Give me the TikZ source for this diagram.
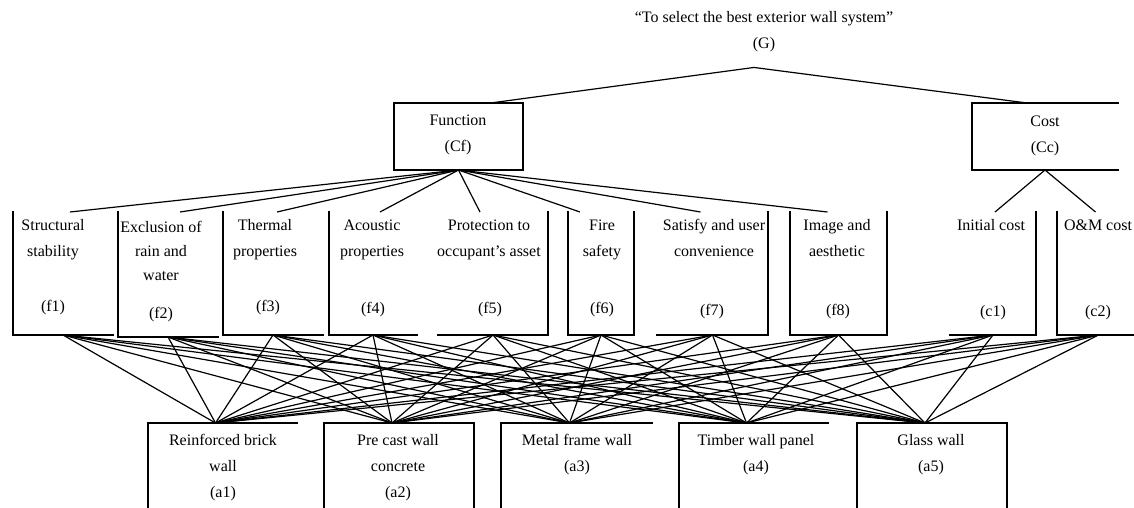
\documentclass[tikz,border=0pt]{standalone}
\usepackage{fontspec}
\setmainfont{Liberation Serif}
\begin{document}
\begin{tikzpicture}[x=1pt,y=-1pt,
  txt/.style={inner sep=0pt, align=center, font=\fontsize{16}{26}\selectfont},
  slot/.style={inner sep=0pt, outer sep=0pt, rectangle, draw=none},
  frame/.style={line width=1.7pt, line cap=rect},
  link/.style={line width=1.2pt}]
\useasboundingbox (0,0) rectangle (1134,508);

% ---------- goal ----------
\node[txt] (G) at (764,32) {“To select the best exterior wall system”\\(G)};

% ---------- criteria groups ----------
\node[slot, minimum width=129pt, minimum height=67pt] (Cf) at (458.5,136.5) {};
\node[slot, minimum width=146pt, minimum height=67pt] (Cc) at (1045,136.5) {};
\draw[frame] (Cf.north west) rectangle (Cf.south east);
\draw[frame] (Cc.north east) -- (Cc.north west) -- (Cc.south west) -- (Cc.south east);
\node[txt] (Cft) at (458,135) {Function\\(Cf)};
\node[txt] (Cct) at (1045,136) {Cost\\(Cc)};

% ---------- sub-criteria frames ----------
\node[slot, minimum width=100pt, minimum height=123pt] (f1) at (63,273.5) {};
\node[slot, minimum width=100pt, minimum height=125pt] (f2) at (168,274.5) {};
\node[slot, minimum width=100pt, minimum height=123pt] (f3) at (273,273.5) {};
\node[slot, minimum width=88pt,  minimum height=123pt] (f4) at (373,273.5) {};
\node[slot, minimum width=110pt, minimum height=123pt] (f5) at (493,273.5) {};
\node[slot, minimum width=66pt,  minimum height=123pt] (f6) at (601,273.5) {};
\node[slot, minimum width=111pt, minimum height=123pt] (f7) at (712.5,273.5) {};
\node[slot, minimum width=97pt,  minimum height=123pt] (f8) at (838.5,273.5) {};
\node[slot, minimum width=86pt,  minimum height=123pt] (c1) at (993,273.5) {};
\node[slot, minimum width=83pt,  minimum height=123pt] (c2) at (1098.5,273.5) {};

\foreach \b in {f1,f2,f3,f4,c2}
  \draw[frame] (\b.north west) -- (\b.south west) -- (\b.south east);
\foreach \b in {f5,f7,c1}
  \draw[frame] (\b.south west) -- (\b.south east) -- (\b.north east);
\foreach \b in {f6,f8}
  \draw[frame] (\b.north west) -- (\b.south west) -- (\b.south east) -- (\b.north east);

\node[txt] (f1t) at (53,240) {Structural\\stability};
\node[txt] (f2t) at (161,251) {Exclusion of\\[-2pt]rain and\\[-2pt]water};
\node[txt] (f3t) at (265,240) {Thermal\\properties};
\node[txt] (f4t) at (372,240) {Acoustic\\properties};
\node[txt] (f5t) at (489,240) {Protection to\\occupant’s asset};
\node[txt] (f6t) at (602,240) {Fire\\safety};
\node[txt] (f7t) at (714,238) {Satisfy and user\\convenience};
\node[txt] (f8t) at (837,238) {Image and\\aesthetic};
\node[txt] (c1t) at (991,225) {Initial cost};
\node[txt] (c2t) at (1098,225) {O\&M cost};

\node[txt] (f1l) at (53,308) {(f1)};
\node[txt] (f2l) at (161,315) {(f2)};
\node[txt] (f3l) at (268,308) {(f3)};
\node[txt] (f4l) at (373,310) {(f4)};
\node[txt] (f5l) at (490,310) {(f5)};
\node[txt] (f6l) at (602,310) {(f6)};
\node[txt] (f7l) at (712,312) {(f7)};
\node[txt] (f8l) at (838,312) {(f8)};
\node[txt] (c1l) at (993,313) {(c1)};
\node[txt] (c2l) at (1098,313) {(c2)};

% ---------- alternatives ----------
\node[slot, minimum width=149pt, minimum height=107pt] (a1) at (222.5,476.5) {};
\node[slot, minimum width=150pt, minimum height=107pt] (a2) at (399,476.5) {};
\node[slot, minimum width=151pt, minimum height=107pt] (a3) at (576.5,476.5) {};
\node[slot, minimum width=149pt, minimum height=107pt] (a4) at (753.5,476.5) {};
\node[slot, minimum width=150pt, minimum height=107pt] (a5) at (932,476.5) {};

\foreach \b in {a1,a3,a4}
  \draw[frame] (\b.south west) -- (\b.north west) -- (\b.north east);
\foreach \b in {a2,a5}
  \draw[frame] (\b.south west) -- (\b.north west) -- (\b.north east) -- (\b.south east);

\node[txt] (a1t) at (223,468) {Reinforced brick\\wall\\(a1)};
\node[txt] (a2t) at (398,468) {Pre cast wall\\concrete\\(a2)};
\node[txt] (a3t) at (577,455) {Metal frame wall\\(a3)};
\node[txt] (a4t) at (756,455) {Timber wall panel\\(a4)};
\node[txt] (a5t) at (931,455) {Glass wall\\(a5)};

% ---------- connectors ----------
\draw[link] ([xshift=-10pt,yshift=-15pt]G.south) -- ([xshift=32pt]Cf.north);
\draw[link] ([xshift=-10pt,yshift=-15pt]G.south) -- ([xshift=-18pt]Cc.north);

\foreach \b/\d in {f1/7,f2/12,f3/4,f4/7,f5/-13,f6/-21,f7/-12,f8/-11}
  \draw[link] (Cf.south) -- ([xshift=\d pt]\b.north);
\draw[link] (Cc.south) -- ([xshift=2pt]c1.north);
\draw[link] (Cc.south) -- ([xshift=-3pt]c2.north);

\foreach \b in {f1,f2,f3,f4,f5,f6,f7,f8,c1,c2}
  \foreach \a in {a1,a2,a3,a4,a5}
    \draw[link] (\b.south) -- ([xshift=-7pt]\a.north);
\end{tikzpicture}
\end{document}
